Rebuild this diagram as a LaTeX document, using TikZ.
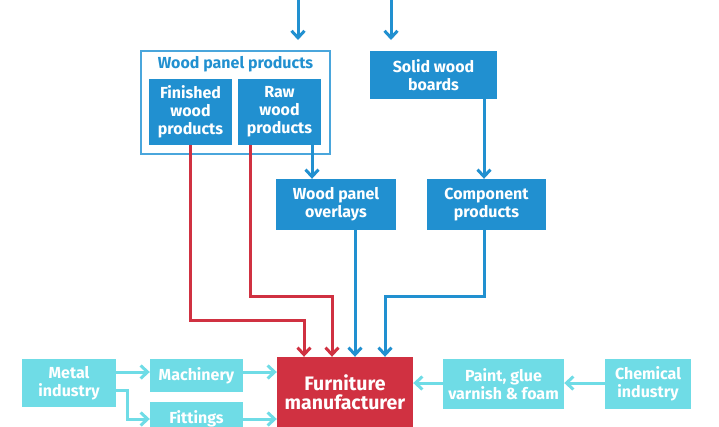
\documentclass[tikz,border=0pt]{standalone}
\usepackage{fontspec}
\setmainfont{Fira Sans}
\usetikzlibrary{arrows.meta,positioning}
\definecolor{dblue}{HTML}{2190D0}
\definecolor{lcyan}{HTML}{6FDCE6}
\definecolor{fred}{HTML}{D03141}
\definecolor{gborder}{HTML}{4AA6DC}
\tikzset{
  box/.style={draw=none, inner sep=0pt, font=\bfseries\fontsize{16}{18}\selectfont, text=white, align=center},
  bluebox/.style={box, fill=dblue},
  cyanbox/.style={box, fill=lcyan},
  redbox/.style={box, fill=fred},
  flow/.style={line width=3pt, -{Straight Barb[length=7pt,width=13pt,line width=3pt]}},
  bflow/.style={flow, draw=dblue},
  rflow/.style={flow, draw=fred},
  cflow/.style={flow, draw=lcyan},
}
\begin{document}
\begin{tikzpicture}[x=1pt,y=-1pt]
\useasboundingbox (0,0) rectangle (719,426);
\begin{scope}
\clip (0,0) rectangle (719,426);
% group
\node[draw=gborder, line width=1.2pt, inner sep=0pt, minimum width=189pt, minimum height=103pt] (grp) at (235.5,102.5) {};
\node[font=\bfseries\fontsize{16}{18}\selectfont, text=dblue] (grpt) at (235.5,64) {Wood panel products};
\node[bluebox, minimum width=83pt, minimum height=66pt] (fin) at (190.5,112) {Finished\\wood\\products};
\node[bluebox, minimum width=83pt, minimum height=66pt] (raw) at (279.5,112) {Raw\\wood\\products};
\node[bluebox, minimum width=127pt, minimum height=48pt] (solid) at (433.5,75) {Solid wood\\boards};
\node[bluebox, minimum width=120pt, minimum height=51pt] (over) at (336,204.5) {Wood panel\\overlays};
\node[bluebox, minimum width=119pt, minimum height=51pt] (comp) at (486.5,204.5) {Component\\products};
\node[redbox, minimum width=136pt, minimum height=80pt] (furn) at (345,397) {};
\node[font=\bfseries\fontsize{19.5}{19}\selectfont, text=white, align=center] (furnt) at (345,392) {Furniture\\manufacturer};
\node[cyanbox, minimum width=94pt, minimum height=48pt] (metal) at (69,383) {Metal\\industry};
\node[cyanbox, minimum width=93pt, minimum height=33pt] (mach) at (196.5,375.5) {Machinery};
\node[cyanbox, minimum width=93pt, minimum height=33pt] (fit) at (196.5,418.5) {Fittings};
\node[cyanbox, minimum width=121pt, minimum height=50pt] (paint) at (503.5,384) {Paint, glue\\varnish \& foam};
\node[cyanbox, minimum width=86pt, minimum height=50pt] (chem) at (648,384) {Chemical\\industry};
\coordinate (in1) at (298,-5);
\coordinate (in2) at (391,-5);
% top inflows
\draw[bflow] (in1) -- (298,40);
\draw[bflow] (in2) -- (391,40);
% blue
\draw[bflow] (raw.south -| 312,0) -- (over.north -| 312,0);
\draw[bflow] (solid.south -| 484,0) -- (comp.north -| 484,0);
\draw[bflow] (over.south -| 355,0) -- (furn.north -| 355,0);
\draw[bflow] (comp.south -| 484,0) -- (484,296) -- (385,296) -- (furn.north -| 385,0);
% red
\draw[rflow] (fin.south -| 190,0) -- (190,320) -- (304,320) -- (furn.north -| 304,0);
\draw[rflow] (raw.south -| 250,0) -- (250,296) -- (332,296) -- (furn.north -| 332,0);
% cyan
\draw[cflow] (metal.east |- 0,372) -- (mach.west |- 0,372);
\draw[cflow] (metal.east |- 0,390) -- (127,390) -- (127,419) -- (fit.west |- 0,419);
\draw[cflow] (mach.east |- 0,372) -- (furn.west |- 0,372);
\draw[cflow] (fit.east |- 0,419) -- (furn.west |- 0,419);
\draw[cflow] (paint.west |- 0,383) -- (furn.east |- 0,383);
\draw[cflow] (chem.west |- 0,383) -- (paint.east |- 0,383);
\end{scope}
\end{tikzpicture}
\end{document}
